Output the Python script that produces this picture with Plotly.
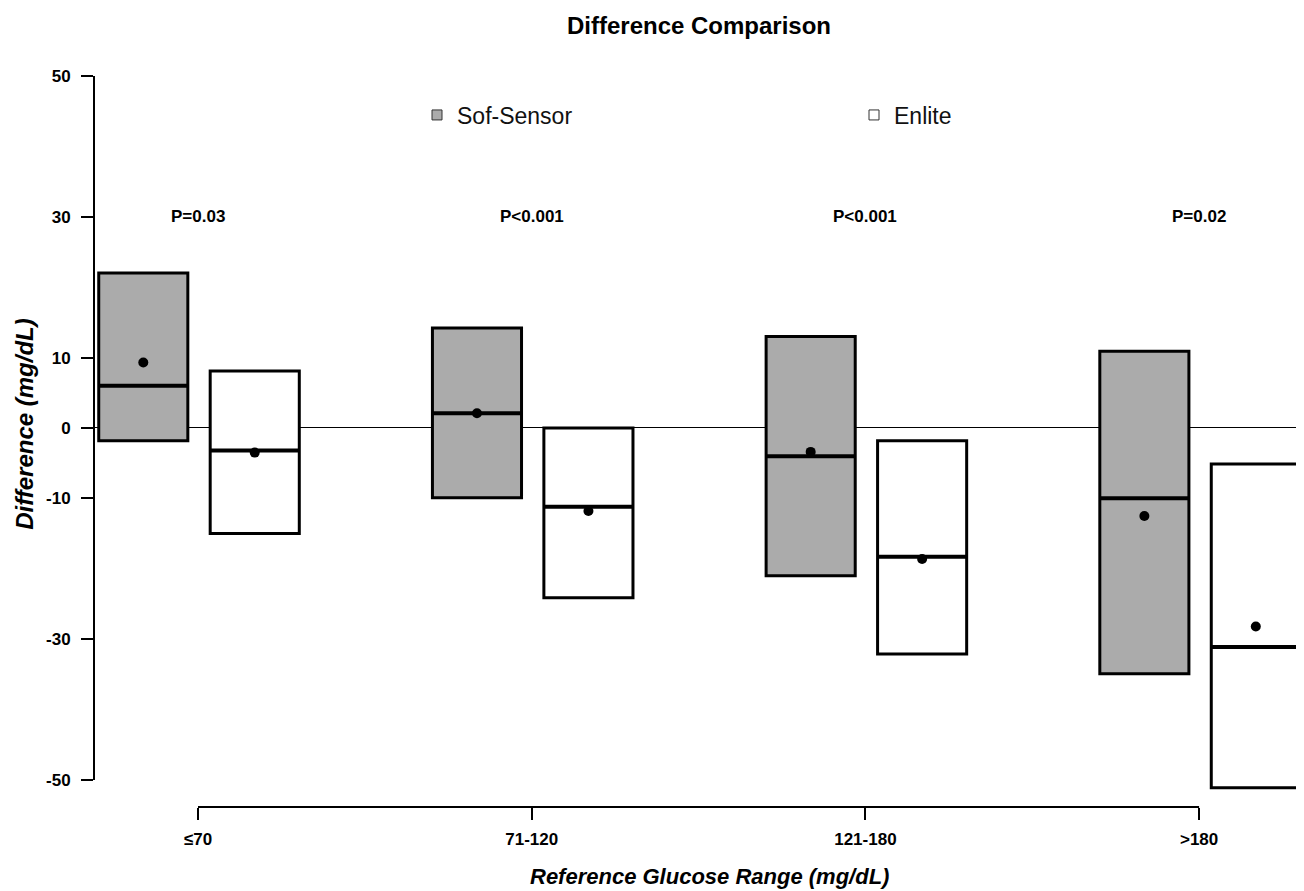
import plotly.graph_objects as go

# ---- data ----
categories = ["≤70", "71-120", "121-180", ">180"]
p_values = ["P=0.03", "P<0.001", "P<0.001", "P=0.02"]

sof_low = [-1.8, -9.9, -21.0, -34.9]
sof_high = [22.0, 14.2, 13.0, 10.9]
sof_median = [6.0, 2.1, -4.0, -10.0]
sof_mean = [9.3, 2.1, -3.4, -12.5]

enl_low = [-15.0, -24.1, -32.1, -51.1]
enl_high = [8.1, 0.0, -1.8, -5.1]
enl_median = [-3.2, -11.2, -18.3, -31.1]
enl_mean = [-3.5, -11.8, -18.6, -28.2]

y_ticks = [50, 30, 10, 0, -10, -30, -50]
y_ticktext = ["50", "30", "10", "0", "-10", "-30", "-50"]

# ---- style ----
FONT = "Liberation Sans, Arial, sans-serif"
BOX_W = 0.267
OFF_SOF = -0.164
OFF_ENL = 0.170
GRAY = "#ababab"

idx = list(range(len(categories)))

fig = go.Figure()


def add_group(name, low, high, median, mean, off, fill):
    xs = [i + off for i in idx]
    fig.add_trace(go.Bar(
        x=xs, base=low, y=[h - l for h, l in zip(high, low)],
        width=BOX_W, marker=dict(color=fill, line=dict(color="black", width=3)),
        showlegend=False, name=name, hoverinfo="skip"))
    mx, my = [], []
    for x, m in zip(xs, median):
        mx += [x - BOX_W / 2, x + BOX_W / 2, None]
        my += [m, m, None]
    fig.add_trace(go.Scatter(x=mx, y=my, mode="lines",
                             line=dict(color="black", width=4),
                             showlegend=False, hoverinfo="skip"))
    fig.add_trace(go.Scatter(x=xs, y=mean, mode="markers",
                             marker=dict(color="black", size=10),
                             showlegend=False, hoverinfo="skip"))
    # legend entry
    fig.add_trace(go.Scatter(x=[None], y=[None], mode="markers", name=name,
                             marker=dict(symbol="square", size=10, color=fill,
                                         line=dict(color="#333333", width=1))))


add_group("Sof-Sensor", sof_low, sof_high, sof_median, sof_mean, OFF_SOF, GRAY)
add_group("Enlite", enl_low, enl_high, enl_median, enl_mean, OFF_ENL, "white")

# P-value labels
for i, p in zip(idx, p_values):
    fig.add_annotation(x=i, y=30, text=p, showarrow=False,
                       font=dict(family=FONT, size=17, color="black", weight="bold"))

# y axis line (50 to -50) and x axis line (first to last category)
fig.add_shape(type="line", xref="paper", yref="y", x0=0, x1=0,
              y0=min(y_ticks), y1=max(y_ticks), line=dict(color="black", width=2))
fig.add_shape(type="line", xref="x", yref="paper", x0=idx[0], x1=idx[-1],
              y0=0, y1=0, line=dict(color="black", width=2))

# axis titles
fig.add_annotation(xref="paper", yref="paper", x=-0.057, y=0.513, textangle=-90,
                   xanchor="center", yanchor="middle",
                   text="Difference (mg/dL)", showarrow=False,
                   font=dict(family=FONT, size=24, color="black", weight="bold", style="italic"))
fig.add_annotation(xref="paper", yref="paper", x=0.509, y=-0.0937,
                   xanchor="center", yanchor="middle",
                   text="Reference Glucose Range (mg/dL)", showarrow=False,
                   font=dict(family=FONT, size=22, color="black", weight="bold", style="italic"))

fig.update_layout(
    width=1296, height=883,
    margin=dict(l=86, r=0, t=52, b=84),
    paper_bgcolor="white", plot_bgcolor="white",
    barmode="overlay",
    title=dict(text="Difference Comparison", x=0.5, xref="paper",
               y=1 - 18 / 883, yref="container", yanchor="middle",
               font=dict(family=FONT, size=24, color="black", weight="bold")),
    legend=dict(orientation="h", x=(417 - 94) / 1210, xanchor="left",
                y=(799 - 107) / 747, yanchor="middle",
                entrywidth=392, entrywidthmode="pixels",
                font=dict(family=FONT, size=23, color="#111111"),
                bgcolor="rgba(0,0,0,0)"),
    xaxis=dict(range=[-0.3117, 3.3144], tickvals=idx, ticktext=categories,
               ticks="outside", ticklen=12, tickwidth=2, tickcolor="black",
               showline=False, showgrid=False, zeroline=False,
               ticklabelstandoff=5,
               tickfont=dict(family=FONT, size=17, color="black", weight="bold")),
    yaxis=dict(range=[-53.84, 52.27], tickvals=y_ticks, ticktext=y_ticktext,
               ticks="outside", ticklen=12, tickwidth=2, tickcolor="black",
               showline=False, showgrid=False,
               zeroline=True, zerolinecolor="black", zerolinewidth=1,
               ticklabelstandoff=7,
               tickfont=dict(family=FONT, size=17, color="black", weight="bold")),
    showlegend=True,
)

fig.write_html("out.html")
